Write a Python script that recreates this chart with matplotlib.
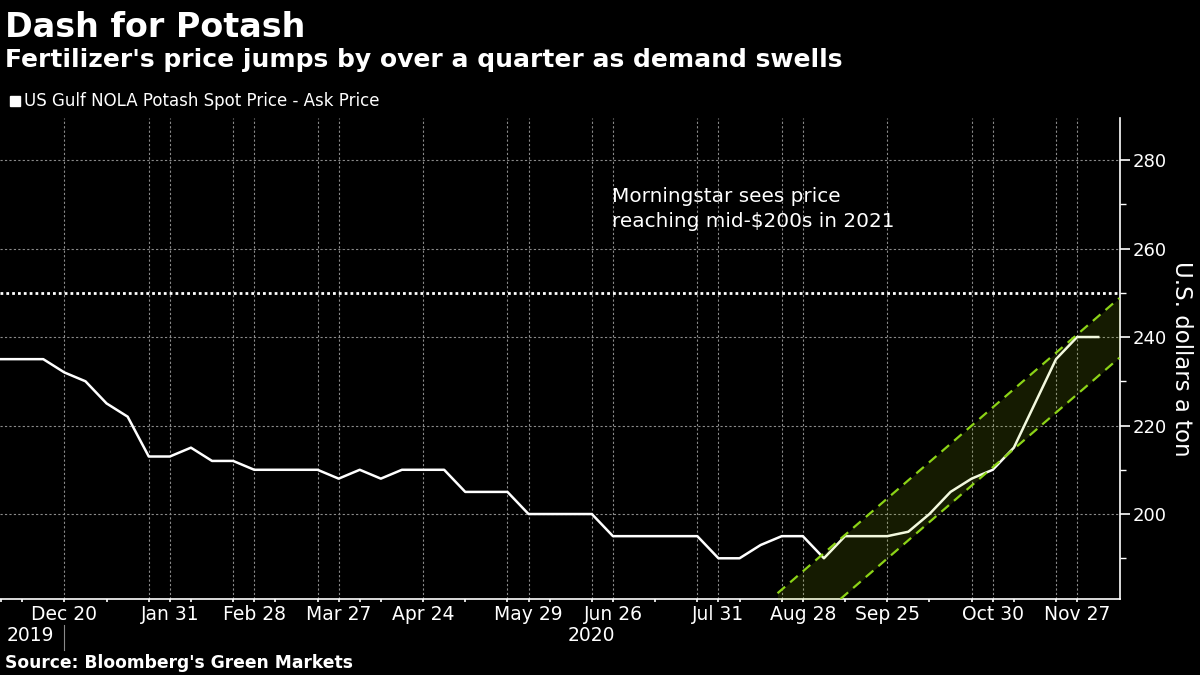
import numpy as np
import pandas as pd
import matplotlib
matplotlib.use('Agg')
import matplotlib.pyplot as plt

# weekly ask price, US Gulf NOLA potash, $/ton (no print for Dec 27 2019)
dates = ['2019-11-29', '2019-12-06', '2019-12-13', '2019-12-20'] + \
    pd.date_range('2020-01-03', '2020-12-04', freq='7D').strftime('%Y-%m-%d').tolist()
prices = [235, 235, 235, 232, 230, 225, 222, 213, 213, 215, 212, 212, 210, 210,
          210, 210, 208, 210, 208, 210, 210, 210, 205, 205, 205, 200, 200, 200,
          200, 195, 195, 195, 195, 195, 190, 190, 193, 195, 195, 190, 195, 195,
          195, 196, 200, 205, 208, 210, 215, 225, 235, 240, 240]

label_dates = ['2019-12-20', '2020-01-31', '2020-02-28', '2020-03-27', '2020-04-24',
               '2020-05-29', '2020-06-26', '2020-07-31', '2020-08-28', '2020-09-25',
               '2020-10-30', '2020-11-27']
grid_dates = ['2019-12-20', '2020-01-24', '2020-01-31', '2020-02-21', '2020-02-28',
              '2020-03-20', '2020-03-27', '2020-04-24', '2020-05-22', '2020-05-29',
              '2020-06-19', '2020-06-26', '2020-07-24', '2020-07-31', '2020-08-21',
              '2020-08-28', '2020-09-25', '2020-10-23', '2020-10-30', '2020-11-20',
              '2020-11-27']

# trend channel drawn on the chart (week index, $/ton)
chan_x = [36.8, 53.0]
chan_upper = [182.1, 248.8]
chan_lower = [168.5, 235.3]
target = 250

pos = {d: i for i, d in enumerate(dates)}
x = np.arange(len(dates))

plt.rcParams['font.family'] = ['DejaVu Sans']
fig = plt.figure(figsize=(12, 6.75), dpi=100, facecolor='black')
ax = fig.add_axes([0.0, 0.1126, 0.9333, 0.7126])
ax.set_facecolor('black')

for d in grid_dates:
    ax.axvline(pos[d], color='#8a8a8a', lw=0.8, ls=(0, (2, 2)), zorder=0)
for v in range(200, 290, 20):
    ax.axhline(v, color='#8a8a8a', lw=0.8, ls=(0, (2, 2)), zorder=0)

ax.axhline(target, color='white', lw=2, ls=(0, (1, 1.1)), zorder=1)

ax.plot(x, prices, color='white', lw=1.8, zorder=2)

ax.fill_between(chan_x, chan_lower, chan_upper, color='#a6d608', alpha=0.13,
                lw=0, zorder=3)
ax.plot(chan_x, chan_upper, color='#8cd317', lw=1.6, dashes=(4.5, 3), zorder=4)
ax.plot(chan_x, chan_lower, color='#8cd317', lw=1.6, dashes=(4.5, 3), zorder=4)

ax.set_xlim(-0.05, 53.03)
ax.set_ylim(180.8, 289.5)

# axes styling
for s in ['left', 'top']:
    ax.spines[s].set_visible(False)
for s in ['right', 'bottom']:
    ax.spines[s].set_color('white')
    ax.spines[s].set_linewidth(1.2)

ax.yaxis.tick_right()
ax.set_yticks(range(200, 290, 20))
ax.set_yticks(range(190, 290, 20), minor=True)
ax.tick_params(axis='y', which='major', colors='white', labelsize=13,
               length=7, width=1.2, pad=2)
ax.tick_params(axis='y', which='minor', colors='white', length=4, width=1)

tick_idx = [0, 1, 3, 5, 7, 8, 9, 11, 12, 13, 15, 16, 17, 18, 20, 22, 24, 25, 26,
            28, 29, 31, 33, 34, 35, 37, 38, 40, 42, 44, 46, 47, 48, 50, 51]
lab_idx = [pos[d] for d in label_dates]
ax.set_xticks(lab_idx)
ax.set_xticklabels([pd.Timestamp(d).strftime('%b %-d') for d in label_dates])
ax.set_xticks([i for i in tick_idx if i not in lab_idx], minor=True)
ax.tick_params(axis='x', which='both', colors='white', labelsize=13.5,
               length=2.5, width=1.2, pad=2)

ax.yaxis.set_label_position('right')
ax.set_ylabel('U.S. dollars a ton', color='white', fontsize=16.5, rotation=270,
              labelpad=19)

# year row under the month labels
ax.text(1.4, -0.075, '2019', transform=ax.get_xaxis_transform(), color='white',
        fontsize=13.5, ha='center', va='center')
ax.text(28, -0.075, '2020', transform=ax.get_xaxis_transform(), color='white',
        fontsize=13.5, ha='center', va='center')
ax.plot([3, 3], [-0.055, -0.105], transform=ax.get_xaxis_transform(),
        color='#8a8a8a', lw=0.8, clip_on=False)

ax.text(28.95, 273.8, 'Morningstar sees price\nreaching mid-$200s in 2021',
        color='white', fontsize=14.4, ha='left', va='top', linespacing=1.4)

fig.text(0.004, 0.945, 'Dash for Potash', color='white', fontsize=24,
         fontweight='bold', va='baseline')
fig.text(0.004, 0.9, "Fertilizer's price jumps by over a quarter as demand swells",
         color='white', fontsize=18, fontweight='bold', va='baseline')
fig.patches.append(plt.Rectangle((0.008, 0.843), 0.0085, 0.0155, color='white',
                                 transform=fig.transFigure))
fig.text(0.02, 0.85, 'US Gulf NOLA Potash Spot Price - Ask Price', color='white',
         fontsize=12, va='center')
fig.text(0.004, 0.018, "Source: Bloomberg's Green Markets", color='white',
         fontsize=12.3, fontweight='bold', va='center')

fig.savefig('out.png', dpi=100, facecolor='black')
